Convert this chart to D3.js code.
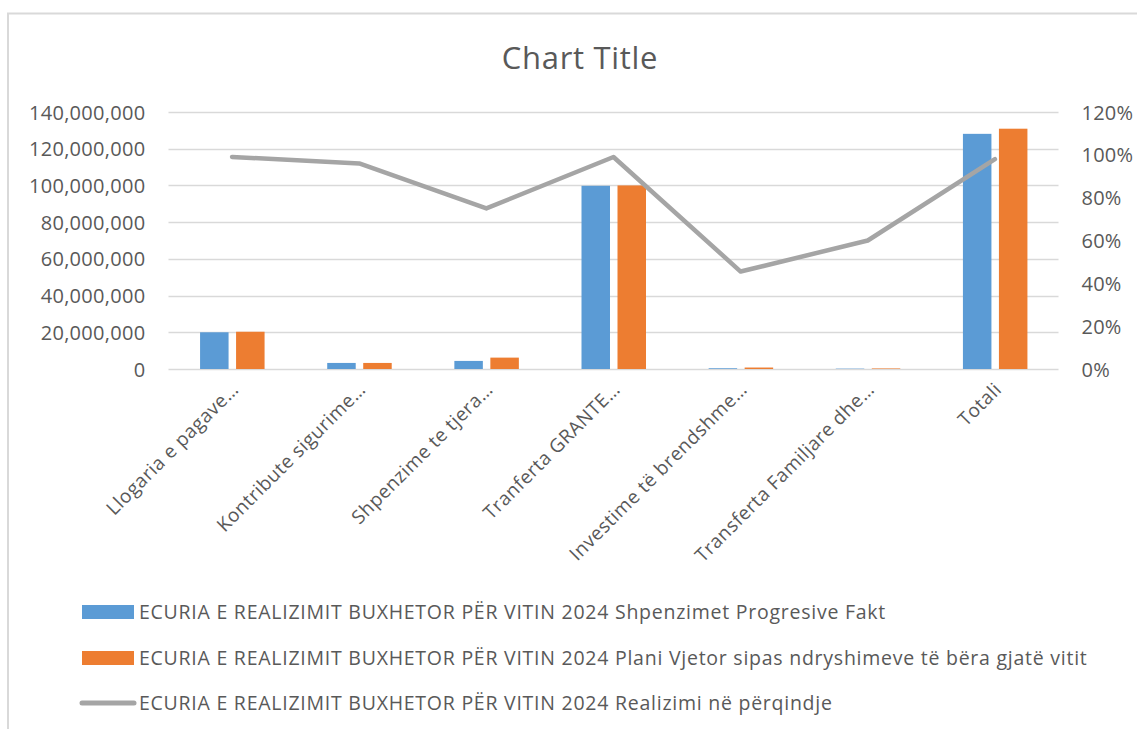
<!DOCTYPE html>
<html><head><meta charset="utf-8">
<script src="https://cdn.jsdelivr.net/npm/d3@7"></script>
<style>body{margin:0;background:#fff}svg text{font-family:"Open Sans",sans-serif;fill:#595959}</style>
</head><body><svg id="c" width="1137" height="729"></svg>
<script>
const categories = ["Llogaria e pagave…","Kontribute sigurime…","Shpenzime te tjera…","Tranferta GRANTE…","Investime të brendshme…","Transferta Familjare dhe…","Totali"];
const faktValues = [20000000, 3300000, 4400000, 99800000, 400000, 200000, 128100000];
const planValues = [20300000, 3300000, 6200000, 100000000, 800000, 300000, 130900000];
const realizimPct = [0.99, 0.96, 0.75, 0.99, 0.455, 0.60, 0.98];
const leftTicks = [0,20000000,40000000,60000000,80000000,100000000,120000000,140000000];
const rightTicks = [0,0.2,0.4,0.6,0.8,1.0,1.2];
const seriesNames = ["ECURIA E REALIZIMIT BUXHETOR PËR VITIN 2024 Shpenzimet Progresive Fakt","ECURIA E REALIZIMIT BUXHETOR PËR VITIN 2024 Plani Vjetor sipas ndryshimeve të bëra gjatë vitit","ECURIA E REALIZIMIT BUXHETOR PËR VITIN 2024 Realizimi në përqindje"];
const chartTitle = "Chart Title";
const colors = ["#5B9BD5","#ED7D31","#A5A5A5"];

const svg = d3.select("#c");
svg.append("path").attr("d","M8,740 V13.5 H1140").attr("fill","none").attr("stroke","#D9D9D9").attr("stroke-width",2);

const L=168.5, R=1058.5, T=112, B=369;
const x = d3.scaleBand().domain(categories).range([L,R]);
const y = d3.scaleLinear().domain([0,140000000]).range([B,T]);
const y2 = d3.scaleLinear().domain([0,1.2]).range([B,T]);

svg.append("text").attr("x",580).attr("y",69).attr("text-anchor","middle")
  .style("font-size","31px").style("letter-spacing","0.7px").text(chartTitle);

svg.append("g").selectAll("line").data(leftTicks).join("line")
  .attr("x1",L).attr("x2",R).attr("y1",d=>Math.round(y(d))+0.5).attr("y2",d=>Math.round(y(d))+0.5)
  .attr("stroke","#D9D9D9").attr("stroke-width",1.5);

const ga = svg.append("g").attr("transform",`translate(${L-23},0)`)
  .call(d3.axisLeft(y).tickValues(leftTicks).tickSize(0).tickFormat(d3.format(",")));
ga.select(".domain").remove();
ga.selectAll("text").style("font-size","20px").style("letter-spacing","0.3px").attr("dy","0.35em").attr("x",0);
const gb = svg.append("g").attr("transform",`translate(${R+23},0)`)
  .call(d3.axisRight(y2).tickValues(rightTicks).tickSize(0).tickFormat(d3.format(".0%")));
gb.select(".domain").remove();
gb.selectAll("text").style("font-size","20px").style("letter-spacing","0.2px").attr("dy","0.35em").attr("x",0);

const bw = 28.5;
svg.append("g").selectAll("rect").data(faktValues).join("rect")
  .attr("x",(d,i)=>x(categories[i])+x.bandwidth()/2-32).attr("width",bw)
  .attr("y",d=>y(d)).attr("height",d=>B-y(d)).attr("fill",colors[0]);
svg.append("g").selectAll("rect").data(planValues).join("rect")
  .attr("x",(d,i)=>x(categories[i])+x.bandwidth()/2+4).attr("width",bw)
  .attr("y",d=>y(d)).attr("height",d=>B-y(d)).attr("fill",colors[1]);

const line = d3.line().x((d,i)=>x(categories[i])+x.bandwidth()/2).y(d=>y2(d));
svg.append("path").datum(realizimPct).attr("d",line).attr("fill","none")
  .attr("stroke",colors[2]).attr("stroke-width",4.5).attr("stroke-linejoin","round").attr("stroke-linecap","round");

svg.append("g").selectAll("text").data(categories).join("text")
  .attr("transform",d=>`translate(${x(d)+x.bandwidth()/2+3},${386}) rotate(-45)`)
  .attr("text-anchor","end").attr("dy","0.35em").style("font-size","19px").style("letter-spacing","0.5px").text(d=>d);

const ly=[612,658,703];
const lg = svg.append("g");
[0,1].forEach(i=>{
  lg.append("rect").attr("x",82).attr("y",ly[i]-7).attr("width",52).attr("height",14).attr("fill",colors[i]);
});
lg.append("line").attr("x1",82).attr("x2",134).attr("y1",ly[2]).attr("y2",ly[2]).attr("stroke",colors[2]).attr("stroke-width",5).attr("stroke-linecap","round");
lg.selectAll("text").data(seriesNames).join("text").attr("x",139).attr("y",(d,i)=>ly[i]).attr("dy","0.35em")
  .style("font-size","19.5px").style("letter-spacing","0.75px").text(d=>d);
</script></body></html>
